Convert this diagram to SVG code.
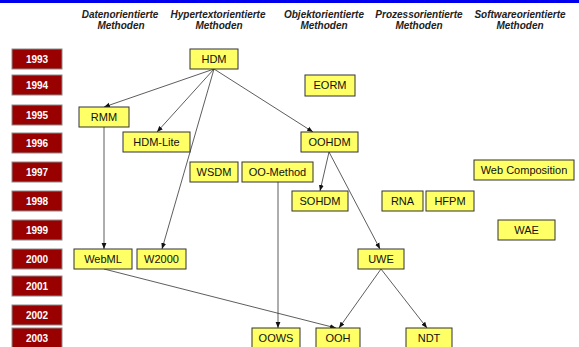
<svg xmlns="http://www.w3.org/2000/svg" width="579" height="347" viewBox="0 0 579 347">
<style>
.hdr{font-family:"Liberation Sans",Arial,sans-serif;font-size:10px;font-weight:bold;font-style:italic;fill:#222;text-anchor:middle}
.yr rect{fill:#990000;stroke:#8a8a8a;stroke-width:1}
.yr text{font-family:"Liberation Sans",Arial,sans-serif;font-size:10px;font-weight:bold;fill:#fff;text-anchor:middle}
.n rect{fill:#ffff66;stroke:#333;stroke-width:1}
.n text{font-family:"Liberation Sans",Arial,sans-serif;font-size:11px;fill:#111;text-anchor:middle}
.c line{stroke:#333;stroke-width:0.8;marker-end:url(#ah)}
</style>
<defs>
<marker id="ah" viewBox="0 0 10 10" refX="10" refY="5" markerWidth="6" markerHeight="6" markerUnits="userSpaceOnUse" orient="auto">
<path d="M0,1 L10,5 L0,9 z" fill="#111"/>
</marker>
</defs>
<rect x="0" y="0" width="579" height="3" fill="#0000ee"/>
<g id="headers">
<text class="hdr" x="120" y="18">Datenorientierte</text><text class="hdr" x="121" y="29">Methoden</text>
<text class="hdr" x="218" y="18">Hypertextorientierte</text><text class="hdr" x="219" y="29">Methoden</text>
<text class="hdr" x="324" y="18">Objektorientierte</text><text class="hdr" x="324" y="29">Methoden</text>
<text class="hdr" x="419" y="18">Prozessorientierte</text><text class="hdr" x="419" y="29">Methoden</text>
<text class="hdr" x="520" y="18">Softwareorientierte</text><text class="hdr" x="520" y="29">Methoden</text>
</g>
<g id="years">
<g class="yr" id="y1993"><rect x="12" y="49" width="50" height="20"/><text x="37" y="63">1993</text></g>
<g class="yr" id="y1994"><rect x="12" y="75" width="50" height="20"/><text x="37" y="89">1994</text></g>
<g class="yr" id="y1995"><rect x="12" y="105" width="50" height="20"/><text x="37" y="119">1995</text></g>
<g class="yr" id="y1996"><rect x="12" y="133" width="50" height="20"/><text x="37" y="147">1996</text></g>
<g class="yr" id="y1997"><rect x="12" y="162" width="50" height="20"/><text x="37" y="176">1997</text></g>
<g class="yr" id="y1998"><rect x="12" y="191" width="50" height="20"/><text x="37" y="205">1998</text></g>
<g class="yr" id="y1999"><rect x="12" y="220" width="50" height="20"/><text x="37" y="234">1999</text></g>
<g class="yr" id="y2000"><rect x="12" y="249" width="50" height="20"/><text x="37" y="263">2000</text></g>
<g class="yr" id="y2001"><rect x="12" y="276" width="50" height="20"/><text x="37" y="290">2001</text></g>
<g class="yr" id="y2002"><rect x="12" y="305" width="50" height="20"/><text x="37" y="319">2002</text></g>
<g class="yr" id="y2003"><rect x="12" y="328" width="50" height="20"/><text x="37" y="342">2003</text></g>
</g>
<g id="connectors" class="c">
<line x1="214" y1="69" x2="104" y2="107"/>
<line x1="214" y1="69" x2="157" y2="132"/>
<line x1="214" y1="69" x2="162" y2="249"/>
<line x1="214" y1="69" x2="313" y2="132"/>
<line x1="104" y1="127" x2="104" y2="249"/>
<line x1="329" y1="152" x2="320" y2="191"/>
<line x1="329" y1="152" x2="380" y2="249"/>
<line x1="278" y1="182" x2="278" y2="328"/>
<line x1="104" y1="269" x2="336" y2="328"/>
<line x1="381" y1="269" x2="339" y2="328"/>
<line x1="381" y1="269" x2="427" y2="328"/>
</g>
<g class="n" id="HDM"><rect x="190" y="49" width="48" height="20"/><text x="214" y="63">HDM</text></g>
<g class="n" id="EORM"><rect x="305" y="75" width="50" height="21"/><text x="330" y="89">EORM</text></g>
<g class="n" id="RMM"><rect x="79" y="107" width="50" height="20"/><text x="104" y="121">RMM</text></g>
<g class="n" id="HDM-Lite"><rect x="123" y="132" width="67" height="20"/><text x="156.5" y="146">HDM-Lite</text></g>
<g class="n" id="OOHDM"><rect x="301" y="132" width="57" height="20"/><text x="329.5" y="146">OOHDM</text></g>
<g class="n" id="WSDM"><rect x="190" y="162" width="48" height="20"/><text x="214" y="176">WSDM</text></g>
<g class="n" id="OO-Method"><rect x="242" y="162" width="71" height="20"/><text x="277.5" y="176">OO-Method</text></g>
<g class="n" id="WebComposition"><rect x="474" y="160" width="100" height="20"/><text x="524" y="174">Web Composition</text></g>
<g class="n" id="SOHDM"><rect x="292" y="191" width="56" height="20"/><text x="320" y="205">SOHDM</text></g>
<g class="n" id="RNA"><rect x="382" y="191" width="41" height="20"/><text x="402.5" y="205">RNA</text></g>
<g class="n" id="HFPM"><rect x="426" y="191" width="48" height="20"/><text x="450" y="205">HFPM</text></g>
<g class="n" id="WAE"><rect x="498" y="220" width="57" height="20"/><text x="526.5" y="234">WAE</text></g>
<g class="n" id="WebML"><rect x="74" y="249" width="58" height="20"/><text x="103" y="263">WebML</text></g>
<g class="n" id="W2000"><rect x="137" y="249" width="49" height="20"/><text x="161.5" y="263">W2000</text></g>
<g class="n" id="UWE"><rect x="358" y="249" width="46" height="20"/><text x="381" y="263">UWE</text></g>
<g class="n" id="OOWS"><rect x="252" y="328" width="48" height="21"/><text x="276" y="342">OOWS</text></g>
<g class="n" id="OOH"><rect x="316" y="328" width="44" height="21"/><text x="338" y="342">OOH</text></g>
<g class="n" id="NDT"><rect x="406" y="328" width="46" height="21"/><text x="429" y="342">NDT</text></g>
</svg>
